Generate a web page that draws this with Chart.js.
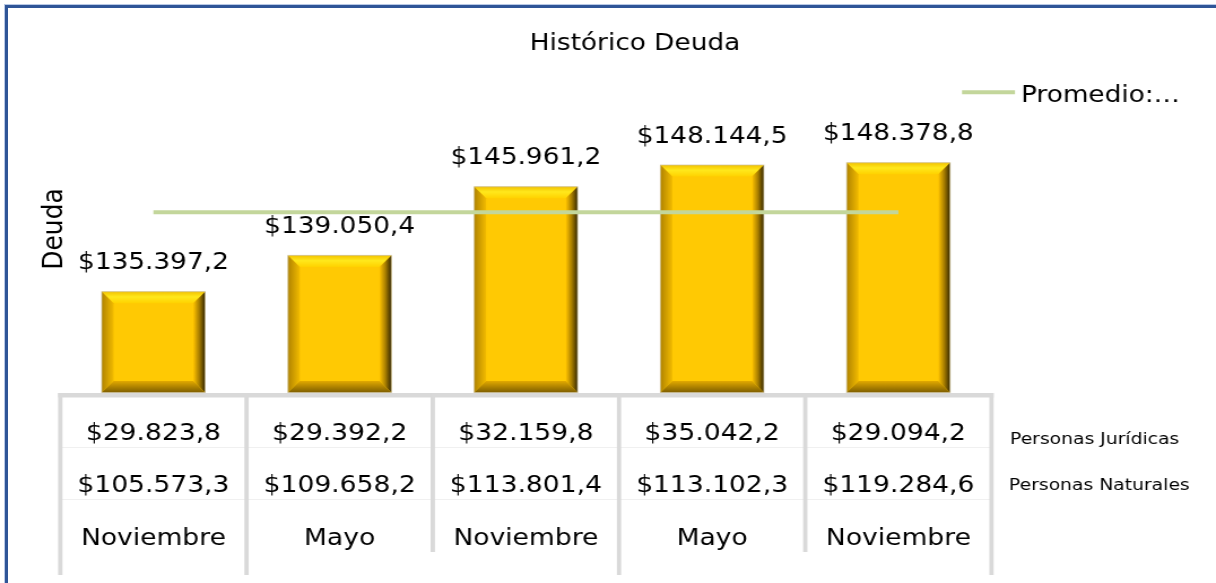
<!DOCTYPE html>
<html lang="es">
<head>
<meta charset="utf-8">
<title>Histórico Deuda</title>
<script src="https://cdn.jsdelivr.net/npm/chart.js@4.4.1/dist/chart.umd.min.js"></script>
<style>
    html, body { margin: 0; padding: 0; background: #fff; overflow: hidden; }
    body { width: 1216px; height: 583px; position: relative; }
    #wrap {
        position: absolute; left: 0; top: 0;
        width: 1076px; height: 583px;
        transform: scaleX(1.1301); transform-origin: 0 0;
    }
    #frame {
        position: absolute; left: 5px; top: 5px;
        width: 1400px; height: 800px;
        border-top: 3px solid #2f5597; border-left: 3px solid #2f5597;
        box-shadow: -1px -1px 0 #b9c9e6;
        pointer-events: none;
    }
</style>
</head>
<body>
<div id="wrap"><canvas id="deudaChart" width="1076" height="583"></canvas></div>
<div id="frame"></div>
<script>
// Datos del gráfico
const periodos = ['Noviembre', 'Mayo', 'Noviembre', 'Mayo', 'Noviembre'];
const deudaTotal = [135397.2, 139050.4, 145961.2, 148144.5, 148378.8];
const personasJuridicas = [29823.8, 29392.2, 32159.8, 35042.2, 29094.2];
const personasNaturales = [105573.3, 109658.2, 113801.4, 113102.3, 119284.6];
const promedio = 143386.4;
const filasTabla = ['Personas Jurídicas', 'Personas Naturales'];
const ejeMin = 125250;
const ejeMax = 150000;

const SX = 1.1301; // el original está estirado en horizontal
const FONT = "'DejaVu Sans', Verdana, sans-serif";

function fmt(v) {
    const parts = v.toFixed(1).split('.');
    return '$' + parts[0].replace(/\B(?=(\d{3})+(?!\d))/g, '.') + ',' + parts[1];
}

// Bisel dorado sobre cada barra
const bevelPlugin = {
    id: 'bevel',
    afterDatasetDraw(chart, args) {
        if (args.meta.type !== 'bar') return;
        const ctx = chart.ctx;
        const bx = 10.5, by = 11.5;
        args.meta.data.forEach(bar => {
            const l = bar.x - bar.width / 2, r = bar.x + bar.width / 2;
            const t = bar.y, b = bar.base;
            let g;
            ctx.save();
            // arriba
            g = ctx.createLinearGradient(0, t, 0, t + by);
            g.addColorStop(0, '#f3c300');
            g.addColorStop(0.45, '#ffe81c');
            g.addColorStop(1, '#ffd200');
            ctx.fillStyle = g;
            ctx.beginPath();
            ctx.moveTo(l, t); ctx.lineTo(r, t); ctx.lineTo(r - bx, t + by); ctx.lineTo(l + bx, t + by);
            ctx.closePath(); ctx.fill();
            // izquierda
            g = ctx.createLinearGradient(l, 0, l + bx, 0);
            g.addColorStop(0, '#b08300');
            g.addColorStop(1, '#f2bb00');
            ctx.fillStyle = g;
            ctx.beginPath();
            ctx.moveTo(l, t); ctx.lineTo(l + bx, t + by); ctx.lineTo(l + bx, b - by); ctx.lineTo(l, b);
            ctx.closePath(); ctx.fill();
            // derecha
            g = ctx.createLinearGradient(r - bx, 0, r, 0);
            g.addColorStop(0, '#ffc400');
            g.addColorStop(0.5, '#a87e00');
            g.addColorStop(1, '#352700');
            ctx.fillStyle = g;
            ctx.beginPath();
            ctx.moveTo(r, t); ctx.lineTo(r, b); ctx.lineTo(r - bx, b - by); ctx.lineTo(r - bx, t + by);
            ctx.closePath(); ctx.fill();
            // abajo
            g = ctx.createLinearGradient(0, b - by, 0, b);
            g.addColorStop(0, '#e2a900');
            g.addColorStop(1, '#7e5e00');
            ctx.fillStyle = g;
            ctx.beginPath();
            ctx.moveTo(l, b); ctx.lineTo(r, b); ctx.lineTo(r - bx, b - by); ctx.lineTo(l + bx, b - by);
            ctx.closePath(); ctx.fill();
            ctx.strokeStyle = 'rgba(200,190,160,0.7)';
            ctx.lineWidth = 1;
            ctx.strokeRect(l, t, r - l, b - t);
            ctx.restore();
        });
    }
};

// Título, etiquetas, leyenda y tabla de datos
const textPlugin = {
    id: 'textos',
    afterDatasetsDraw(chart) {
        const ctx = chart.ctx;
        const xs = chart.scales.x;
        const area = chart.chartArea;
        ctx.save();
        ctx.fillStyle = '#000';

        // título
        ctx.font = '23.3px ' + FONT;
        ctx.textAlign = 'center';
        ctx.textBaseline = 'alphabetic';
        ctx.fillText('Histórico Deuda', 635 / SX, 49.5);

        // etiquetas sobre las barras
        chart.getDatasetMeta(0).data.forEach((bar, i) => {
            ctx.fillText(fmt(deudaTotal[i]), bar.x, bar.y - 22.5);
        });

        // título del eje
        ctx.save();
        ctx.translate(62.5 / SX, 229);
        ctx.rotate(-Math.PI / 2);
        ctx.font = '25px ' + FONT;
        ctx.fillText('Deuda', 0, 0);
        ctx.restore();

        // leyenda
        ctx.strokeStyle = '#c3d69b';
        ctx.lineWidth = 4;
        ctx.beginPath();
        ctx.moveTo(962 / SX, 92.3);
        ctx.lineTo(1015 / SX, 92.3);
        ctx.stroke();
        ctx.textAlign = 'left';
        ctx.fillText('Promedio:…', 1021 / SX, 101.5);

        // tabla
        const step = xs.getPixelForValue(1) - xs.getPixelForValue(0);
        const lw = 4.3 / SX;
        ctx.fillStyle = '#f0f0f0';
        [447, 499].forEach(yy => ctx.fillRect(area.left, yy, area.right - area.left, 1));
        ctx.fillStyle = '#d9d9d9';
        ctx.fillRect(area.left - lw / 2, 393, area.right - area.left + lw, 4.5);
        const largos = [575, 575, 552, 575, 552, 575];
        for (let i = 0; i <= periodos.length; i++) {
            const bx = xs.getPixelForValue(0) - step / 2 + i * step;
            ctx.fillRect(bx - lw / 2, 393, lw, largos[i] - 393);
        }

        ctx.fillStyle = '#000';
        ctx.textAlign = 'center';
        ctx.font = '23.5px ' + FONT;
        periodos.forEach((p, i) => {
            const cx = xs.getPixelForValue(i);
            ctx.fillText(fmt(personasJuridicas[i]), cx, 440);
            ctx.fillText(fmt(personasNaturales[i]), cx, 491.5);
            ctx.fillText(p, cx, 545);
        });

        ctx.textAlign = 'left';
        ctx.font = '16.6px ' + FONT;
        ctx.fillText(filasTabla[0], 1010 / SX, 444);
        ctx.fillText(filasTabla[1], 1009 / SX, 490);
        ctx.restore();
    }
};

new Chart(document.getElementById('deudaChart'), {
    data: {
        labels: periodos,
        datasets: [{
            type: 'bar',
            label: 'Deuda',
            data: deudaTotal,
            base: ejeMin,
            backgroundColor: '#ffc903',
            borderWidth: 0,
            barPercentage: 0.555,
            categoryPercentage: 1,
            order: 2
        }, {
            type: 'line',
            label: 'Promedio',
            data: periodos.map(() => promedio),
            borderColor: '#c3d69b',
            borderWidth: 4,
            pointRadius: 0,
            fill: false,
            order: 1
        }]
    },
    options: {
        responsive: false,
        animation: false,
        layout: {
            padding: { left: 60.3 / SX, right: 1076 - 991.5 / SX, top: 146.6, bottom: 583 - 392.5 }
        },
        plugins: {
            legend: { display: false },
            title: { display: false },
            tooltip: { enabled: false }
        },
        scales: {
            x: { display: false, offset: true },
            y: { display: false, min: ejeMin, max: ejeMax }
        }
    },
    plugins: [bevelPlugin, textPlugin]
});
</script>
</body>
</html>
